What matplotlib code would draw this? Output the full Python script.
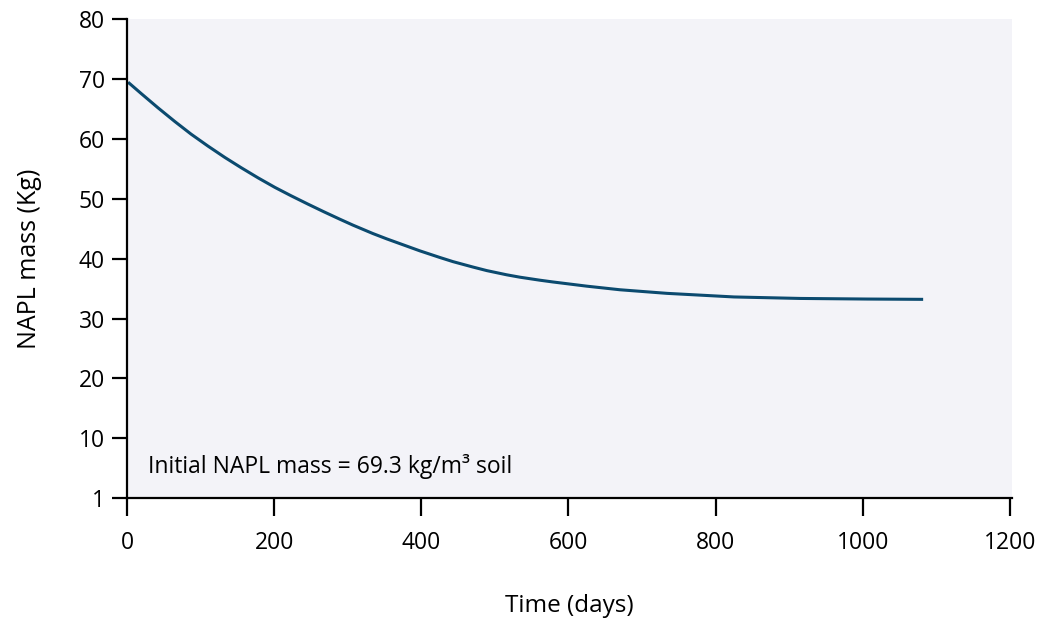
import matplotlib
matplotlib.use("Agg")
import matplotlib.pyplot as plt

# NAPL mass remaining over time
days = [3, 19, 42, 65, 87, 110, 133, 155, 178, 201, 223, 246, 268, 289, 307, 334, 353, 380, 398,
        425, 443, 470, 489, 516, 534, 561, 579, 625, 670, 734, 825, 915, 1006, 1080]
mass = [69.3, 67.6, 65.2, 62.9, 60.8, 58.8, 56.9, 55.2, 53.5, 51.9, 50.5, 49.1, 47.8, 46.6, 45.6, 44.2, 43.3, 42.1, 41.3,
        40.2, 39.5, 38.6, 38.0, 37.3, 36.9, 36.4, 36.1, 35.4, 34.8, 34.2, 33.6, 33.35, 33.25, 33.2]

y_ticks = [0, 10, 20, 30, 40, 50, 60, 70, 80]
y_labels = ["1", "10", "20", "30", "40", "50", "60", "70", "80"]
x_ticks = [0, 200, 400, 600, 800, 1000, 1200]

plt.rcParams["font.family"] = ["Open Sans", "DejaVu Sans"]

fig = plt.figure(figsize=(10.37, 6.18), dpi=100)
ax = fig.add_axes([0.1225, 0.194, 0.8535, 0.775])
ax.set_facecolor("#f3f3f8")

ax.plot(days, mass, color="#0b4a6f", lw=2.2)

ax.set_xlim(0, 1203)
ax.set_ylim(0, 80)
ax.set_yticks(y_ticks)
ax.set_yticklabels(y_labels)
ax.set_xticks(x_ticks)

for s in ["top", "right"]:
    ax.spines[s].set_visible(False)
for s in ["left", "bottom"]:
    ax.spines[s].set_linewidth(1.6)

ax.tick_params(axis="y", direction="out", length=11, width=1.6, pad=5, labelsize=16.5)
ax.tick_params(axis="x", direction="out", length=13, width=1.6, pad=11, labelsize=16.5)

ax.set_ylabel("NAPL mass (Kg)", fontsize=18, labelpad=26)
ax.set_xlabel("Time (days)", fontsize=17.5, labelpad=28)

ax.text(28, 5.3, "Initial NAPL mass = 69.3 kg/m³ soil", fontsize=16.5, va="center", ha="left")

fig.savefig("out.png", dpi=100)
